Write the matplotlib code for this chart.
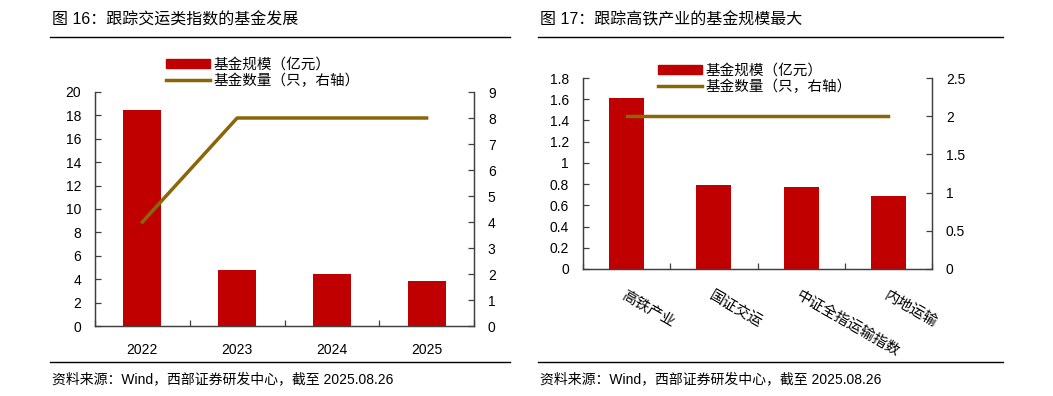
import numpy as np
import matplotlib.pyplot as plt
from matplotlib.lines import Line2D
from matplotlib.patches import Patch

plt.rcParams['font.family'] = ['Liberation Sans', 'Noto Sans CJK SC', 'DejaVu Sans']
plt.rcParams['axes.unicode_minus'] = False

# data
years = ['2022', '2023', '2024', '2025']
scale_by_year = [18.5, 4.8, 4.45, 3.85]      # 基金规模（亿元）
count_by_year = [4, 8, 8, 8]                 # 基金数量（只）

indexes = ['高铁产业', '国证交运', '中证全指运输指数', '内地运输']
scale_by_index = [1.61, 0.79, 0.77, 0.69]
count_by_index = [2, 2, 2, 2]

bar_c = '#C00000'
line_c = '#8B6508'
axis_c = '#404040'
mixed = ['Liberation Sans', 'Noto Sans CJK SC', 'DejaVu Sans']

fig = plt.figure(figsize=(10.53, 3.96), dpi=100)
W, H = 1053, 396


def fx(px):
    return px / W


def fy(py):
    return 1 - py / H


def style(ax, ax2):
    for a in (ax, ax2):
        for s in a.spines.values():
            s.set_color(axis_c)
            s.set_linewidth(0.9)
        a.spines['top'].set_visible(False)
        a.tick_params(direction='in', length=4, width=0.9, color=axis_c,
                      labelsize=10, labelcolor='black')
    ax.tick_params(axis='y', pad=10)
    ax2.tick_params(axis='y', pad=10)
    ax.tick_params(axis='x', length=4)


def frame(x0, x1, title):
    fig.text(fx(x0 + 2), fy(20), title, fontsize=11.5, va='center', ha='left', family=mixed)
    fig.add_artist(Line2D([fx(x0), fx(x1)], [fy(37), fy(37)], color='black', lw=1.0))
    fig.add_artist(Line2D([fx(x0), fx(x1)], [fy(362), fy(362)], color='black', lw=1.0))
    fig.text(fx(x0 + 2), fy(379), '资料来源：Wind，西部证券研发中心，截至 2025.08.26',
             fontsize=10, va='center', ha='left', family=mixed)


handles = [Patch(color=bar_c), Line2D([0], [0], color=line_c, lw=2.5)]
labels = ['基金规模（亿元）', '基金数量（只，右轴）']

# ---- left chart
frame(50, 510, '图 16：跟踪交运类指数的基金发展')
ax = fig.add_axes([fx(95), fy(326), fx(474 - 95), (326 - 92) / H])
ax2 = ax.twinx()
x = np.arange(len(years))
ax.bar(x, scale_by_year, width=0.4, color=bar_c, zorder=2)
ax2.plot(x, count_by_year, color=line_c, lw=2.5, zorder=3)
ax.set_xlim(-0.5, 3.5)
ax.set_ylim(0, 20)
ax.set_yticks(np.arange(0, 21, 2))
ax2.set_ylim(0, 9)
ax2.set_yticks(np.arange(0, 10, 1))
ax.set_xticks(np.arange(-0.5, 4, 1))
ax.set_xticklabels([])
ax.set_xticks(x, minor=True)
ax.set_xticklabels(years, minor=True)
ax.tick_params(axis='x', which='minor', length=0, pad=12, labelsize=10)
ax.set_zorder(ax2.get_zorder() - 1)
ax.patch.set_visible(False)
style(ax, ax2)
fig.legend(handles, labels, loc='upper left', bbox_to_anchor=(fx(160), fy(52)),
           frameon=False, prop={'family': mixed, 'size': 10.5}, handlelength=3.0,
           handleheight=0.55, labelspacing=0.1, handletextpad=0.3, borderaxespad=0)

# ---- right chart
frame(538, 1003, '图 17：跟踪高铁产业的基金规模最大')
bx = fig.add_axes([fx(583), fy(269), fx(932 - 583), (269 - 78) / H])
bx2 = bx.twinx()
x = np.arange(len(indexes))
bx.bar(x, scale_by_index, width=0.4, color=bar_c, zorder=2)
bx2.plot(x, count_by_index, color=line_c, lw=2.5, zorder=3)
bx.set_xlim(-0.5, 3.5)
bx.set_ylim(0, 1.8)
bx.set_yticks(np.round(np.arange(0, 1.81, 0.2), 1))
bx.set_yticklabels(['0', '0.2', '0.4', '0.6', '0.8', '1', '1.2', '1.4', '1.6', '1.8'])
bx2.set_ylim(0, 2.5)
bx2.set_yticks([0, 0.5, 1, 1.5, 2, 2.5])
bx2.set_yticklabels(['0', '0.5', '1', '1.5', '2', '2.5'])
bx.set_xticks(np.arange(-0.5, 4, 1))
bx.set_xticklabels([])
bx.set_xticks(x, minor=True)
bx.set_xticklabels(indexes, minor=True, rotation=-30, ha='left',
                   rotation_mode='anchor', family=mixed, fontsize=10.5)
bx.tick_params(axis='x', which='minor', length=0, pad=14)
bx.set_zorder(bx2.get_zorder() - 1)
bx.patch.set_visible(False)
style(bx, bx2)
fig.legend(handles, labels, loc='upper left', bbox_to_anchor=(fx(652), fy(58)),
           frameon=False, prop={'family': mixed, 'size': 10.5}, handlelength=3.0,
           handleheight=0.55, labelspacing=0.1, handletextpad=0.3, borderaxespad=0)

fig.savefig('out.png', dpi=100)
